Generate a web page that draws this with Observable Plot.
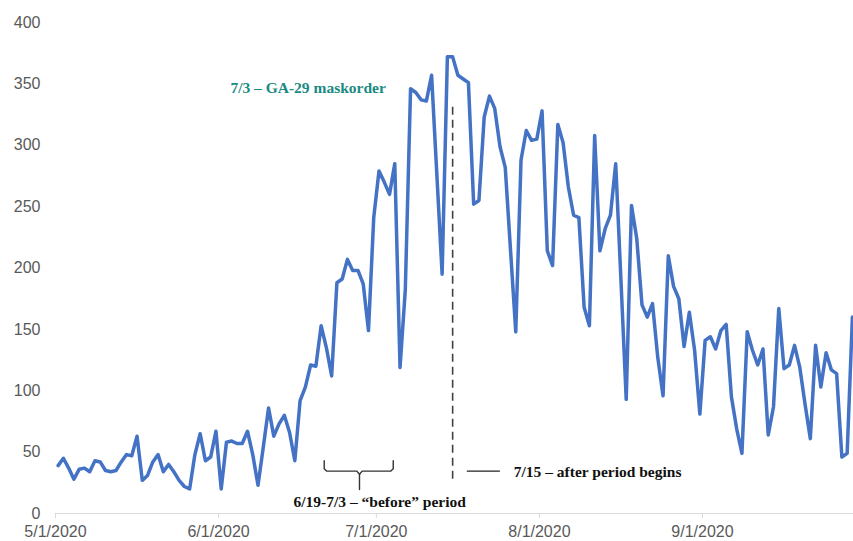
<!DOCTYPE html>
<html><head><meta charset="utf-8">
<script src="https://cdn.jsdelivr.net/npm/d3@7"></script>
<script src="https://cdn.jsdelivr.net/npm/@observablehq/plot@0.6"></script>
<style>html,body{margin:0;padding:0;background:#fff;} #chart svg{display:block;}</style>
</head><body><div id="chart"></div>
<script>
// Daily values starting 5/1/2020
const startDate = "2020-05-01";
const dailyValues = [
  39,45,37,28,36,37,34,43,42,35,34,35,42,48,47,63,27,31,42,48,34,40,34,27,22,20,48,65,43,46,67,
  20,58,59,57,57,67,48,23,54,86,63,73,80,66,43,92,103,121,120,153,135,112,188,191,207,198,198,187,149,
  241,279,270,260,285,119,182,346,343,337,336,357,276,195,372,372,357,354,351,252,255,323,340,330,299,282,215,148,288,312,304,305,
  328,214,202,317,302,266,243,241,168,153,308,214,232,243,285,190,93,251,224,170,160,171,127,96,210,185,175,136,164,133,81,
  141,144,134,149,154,95,69,49,148,133,121,134,64,87,167,118,121,137,119,89,61,137,103,131,117,114,46,49,160
];
const yTicks = [0,50,100,150,200,250,300,350,400];
const xTickDates = ["2020-05-01","2020-06-01","2020-07-01","2020-08-01","2020-09-01"];
const xTickLabels = ["5/1/2020","6/1/2020","7/1/2020","8/1/2020","9/1/2020"];
const domainEnd = "2020-09-29T17:00Z";

// Annotations
const maskLabel = [{x: "2020-06-03T06:00Z", y: 347, text: "7/3 – GA-29 maskorder"}];
const beforeLabel = [{x: "2020-06-15T06:00Z", y: 9, text: "6/19-7/3 – “before” period"}];
const afterLabel = [{x: "2020-07-27T03:00Z", y: 33.6, text: "7/15 – after period begins"}];
const afterDash = [{x1: "2020-07-18T07:00Z", x2: "2020-07-24T14:00Z", y: 34.5}];
const periodStartRule = [{x: "2020-07-15T12:00Z", y1: 28, y2: 332}];
const bracketPoints = [
  {part: "L", x: "2020-06-21T02:00Z", y: 43},
  {part: "L", x: "2020-06-21T02:00Z", y: 36.5},
  {part: "L", x: "2020-06-21T14:00Z", y: 34.5},
  {part: "L", x: "2020-06-27T07:00Z", y: 34.5},
  {part: "L", x: "2020-06-27T19:00Z", y: 32},
  {part: "L", x: "2020-06-27T19:00Z", y: 19.5},
  {part: "R", x: "2020-06-27T19:00Z", y: 32},
  {part: "R", x: "2020-06-28T07:00Z", y: 34.5},
  {part: "R", x: "2020-07-03T17:00Z", y: 34.5},
  {part: "R", x: "2020-07-04T05:00Z", y: 36.5},
  {part: "R", x: "2020-07-04T05:00Z", y: 43}
];

const DAY = 864e5;
const t0 = Date.parse(startDate);
const data = dailyValues.map((v, i) => ({date: new Date(t0 + (i + 0.5) * DAY), value: v}));
const D = s => new Date(s.length === 10 ? s + "T00:00Z" : s);
const tickDates = xTickDates.map(D);
const tickFmt = d => xTickLabels[tickDates.findIndex(t => +t === +d)];
const serif = "'Liberation Serif','Times New Roman',serif";

const chart = Plot.plot({
  width: 853, height: 541,
  marginLeft: 55, marginRight: 0, marginTop: 22, marginBottom: 28,
  style: {fontFamily: "'Liberation Sans', Arial, sans-serif", background: "#fff"},
  x: {type: "utc", domain: [D(startDate), D(domainEnd)]},
  y: {domain: [0, 400]},
  marks: [
    Plot.ruleY([0], {stroke: "#d9d9d9", strokeWidth: 1}),
    Plot.axisY({ticks: yTicks, tickSize: 0, tickPadding: 15, fontSize: 16, fill: "#595959", label: null}),
    Plot.axisX({ticks: tickDates, tickFormat: tickFmt, tickSize: 5, tickPadding: 7, fontSize: 16,
      stroke: "#d9d9d9", fill: "#595959", label: null}),
    Plot.line(data, {x: "date", y: "value", stroke: "#4472C4", strokeWidth: 3.5,
      strokeLinejoin: "round", strokeLinecap: "round"}),
    Plot.ruleX(periodStartRule, {x: d => D(d.x), y1: "y1", y2: "y2", stroke: "#404040",
      strokeWidth: 1.6, strokeDasharray: "8,5"}),
    Plot.ruleY(afterDash, {x1: d => D(d.x1), x2: d => D(d.x2), y: "y", stroke: "#222", strokeWidth: 1.3}),
    Plot.line(bracketPoints, {x: d => D(d.x), y: "y", z: "part", stroke: "#333", strokeWidth: 1.4}),
    Plot.text(maskLabel, {x: d => D(d.x), y: "y", text: "text", textAnchor: "start", fill: "#1a8a82",
      fontSize: 15.5, fontWeight: "bold", fontFamily: serif}),
    Plot.text(beforeLabel, {x: d => D(d.x), y: "y", text: "text", textAnchor: "start", fill: "#111",
      fontSize: 15.5, fontWeight: "bold", fontFamily: serif}),
    Plot.text(afterLabel, {x: d => D(d.x), y: "y", text: "text", textAnchor: "start", fill: "#111",
      fontSize: 15.5, fontWeight: "bold", fontFamily: serif})
  ]
});
document.getElementById("chart").append(chart);
</script>
</body></html>
